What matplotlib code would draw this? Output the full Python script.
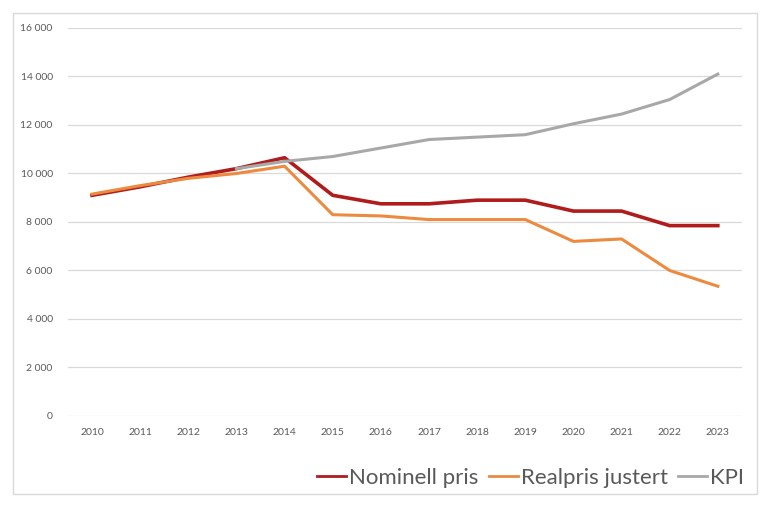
import matplotlib.pyplot as plt
from matplotlib.patches import Rectangle
from matplotlib.ticker import FuncFormatter

plt.rcParams["font.family"] = ["Lato", "DejaVu Sans"]

years = [str(y) for y in range(2010, 2024)]
nominell = [9100, 9450, 9850, 10200, 10650, 9100, 8750, 8750, 8900, 8900, 8450, 8450, 7850, 7850]
realpris = [9150, 9500, 9800, 10000, 10300, 8300, 8250, 8100, 8100, 8100, 7200, 7300, 6000, 5350]
kpi = [None, None, None, 10200, 10500, 10700, 11050, 11400, 11500, 11600, 12050, 12450, 13050, 14100]

fig = plt.figure(figsize=(7.68, 5.07), dpi=100)
ax = fig.add_axes([0.0885, 0.1795, 0.8775, 0.7653])

x = range(len(years))
ax.plot(x, nominell, color="#B01C1C", lw=2.6, label="Nominell pris", solid_joinstyle="round")
ax.plot(x, realpris, color="#EC8A3F", lw=2.2, label="Realpris justert", solid_joinstyle="round")
kx = [i for i, v in zip(x, kpi) if v is not None]
ky = [v for v in kpi if v is not None]
ax.plot(kx, ky, color="#A8A8A8", lw=2.2, label="KPI", solid_joinstyle="round")

ax.set_xlim(-0.5, len(years) - 0.5)
ax.set_ylim(0, 16000)
ax.set_yticks(range(0, 16001, 2000))
ax.yaxis.set_major_formatter(FuncFormatter(lambda v, p: f"{int(v):,}".replace(",", " ")))
ax.set_xticks(list(x))
ax.set_xticklabels(years)
ax.grid(axis="y", color="#D9D9D9", lw=0.9)
ax.set_axisbelow(True)
for s in ax.spines.values():
    s.set_visible(False)
ax.tick_params(length=0, labelsize=7.5, colors="#595959")
ax.tick_params(axis="y", pad=11)
ax.tick_params(axis="x", pad=9)

fig.patches.append(Rectangle((13 / 768, 1 - 494 / 507), 744 / 768, 481 / 507,
                             transform=fig.transFigure, fill=False, ec="#D9D9D9", lw=1))

leg = fig.legend(loc="center right", bbox_to_anchor=(0.995, 0.057), ncol=3, frameon=False,
                 fontsize=16, handlelength=1.3, handletextpad=0.15, columnspacing=0.45)
for t in leg.get_texts():
    t.set_color("#595959")
for h in leg.get_lines():
    h.set_linewidth(2)

fig.savefig("out.png", dpi=100)
